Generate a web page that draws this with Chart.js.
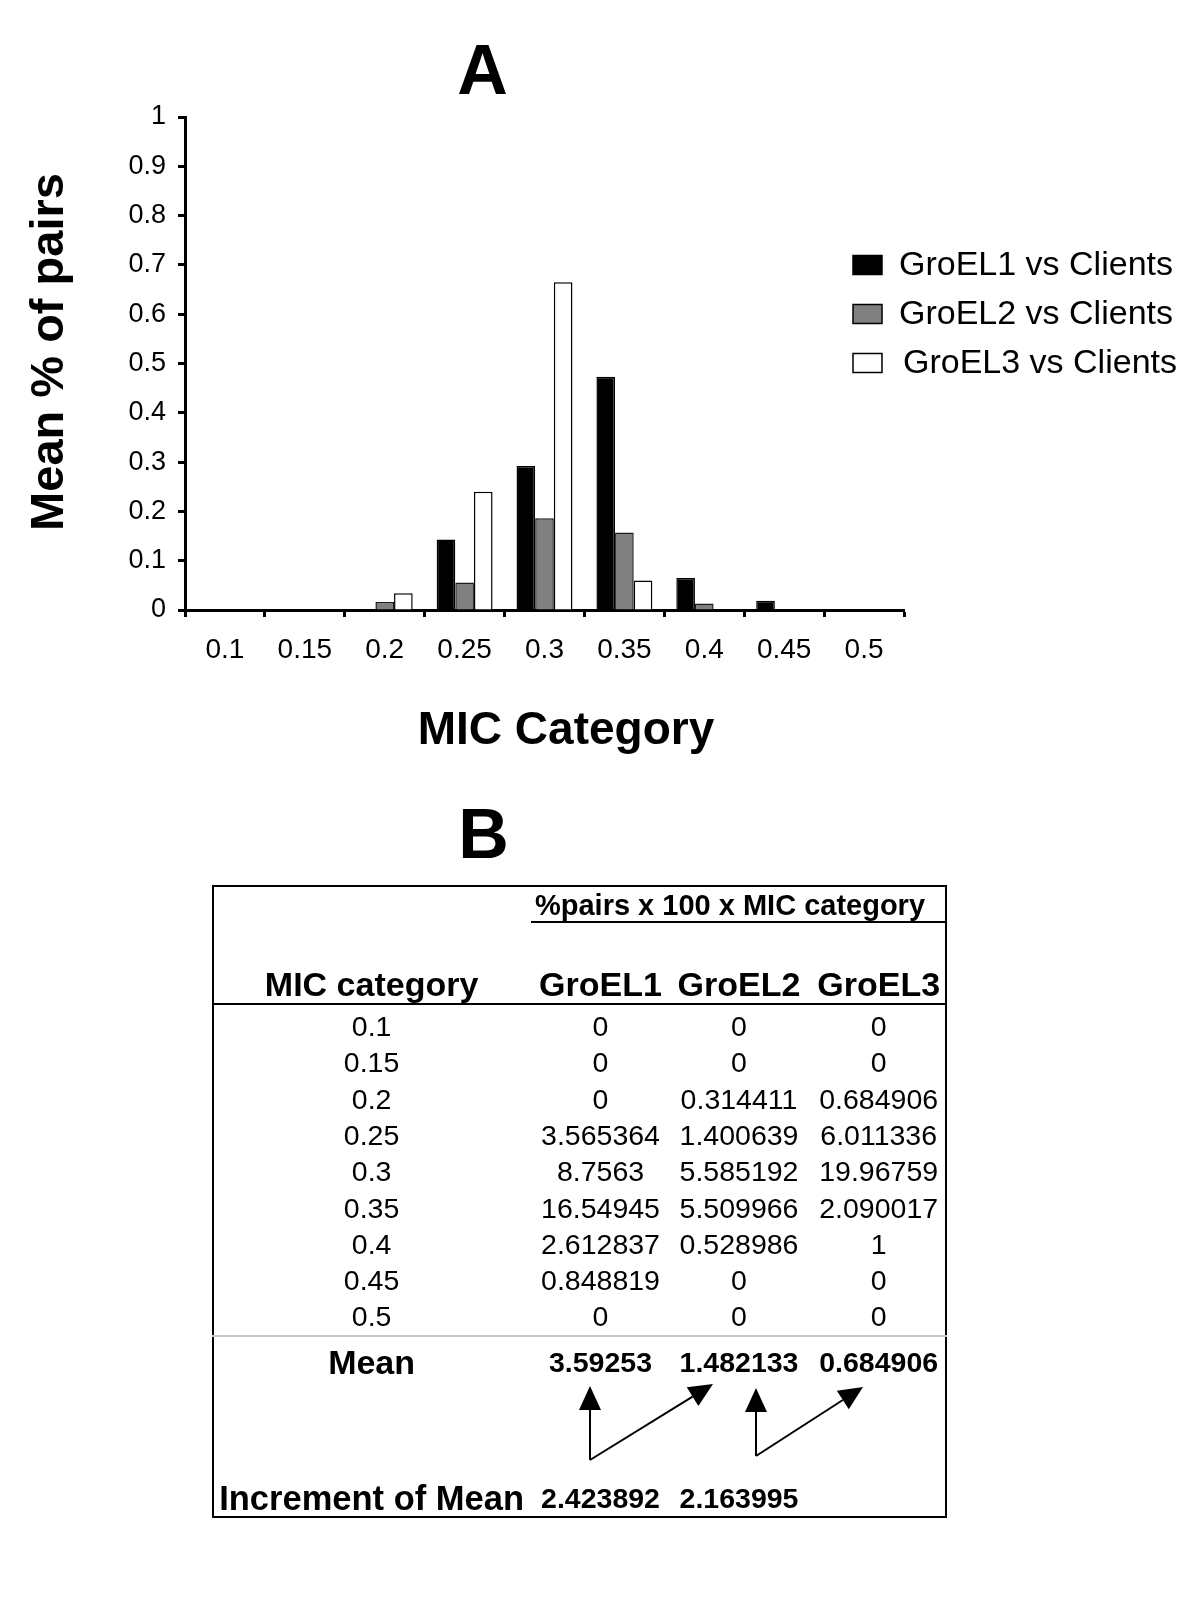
<!DOCTYPE html>
<html>
<head>
<meta charset="utf-8">
<script src="https://cdn.jsdelivr.net/npm/chart.js@4.4.1/dist/chart.umd.min.js"></script>
<style>
  html, body { margin: 0; padding: 0; background: #fff; }
  body { width: 1200px; height: 1610px; position: relative; overflow: hidden;
         font-family: Arial, "Liberation Sans", Helvetica, sans-serif; color: #000; }
  #chartA { position: absolute; left: 0; top: 0; }
  .txt { position: absolute; white-space: nowrap; text-align: center; }
  .bold { font-weight: bold; }
  .rule { position: absolute; background: #000; }
  #tableBox { position: absolute; left: 212px; top: 885px; width: 735px; height: 633px;
              border: 2px solid #000; box-sizing: border-box; }
  #arrows { position: absolute; left: 0; top: 0; }
</style>
</head>
<body>
<canvas id="chartA" width="1200" height="780"></canvas>
<div id="tableBox"></div>
<div class="rule" style="left:531px; top:921px; width:416px; height:2px;"></div>
<div class="rule" style="left:212px; top:1003px; width:735px; height:2px;"></div>
<div class="rule" style="left:212px; top:1335px; width:735px; height:2px; background:#c8c8c8;"></div>
<svg id="arrows" width="1200" height="1610"></svg>

<script>
// ---- panel A data (mean % of pairs per MIC category) ----
const micLabels = ["0.1", "0.15", "0.2", "0.25", "0.3", "0.35", "0.4", "0.45", "0.5"];
const groel1Pairs = [0, 0, 0, 0.143, 0.292, 0.473, 0.065, 0.019, 0];
const groel2Pairs = [0, 0, 0.016, 0.056, 0.186, 0.157, 0.013, 0, 0];
const groel3Pairs = [0, 0, 0.034, 0.240, 0.665, 0.060, 0, 0, 0];
const seriesNames = ["GroEL1 vs Clients", "GroEL2 vs Clients", "GroEL3 vs Clients"];
const yMax = 1;
const yStep = 0.1;

// ---- panel B table ----
const tableHeads = ["MIC category", "GroEL1", "GroEL2", "GroEL3"];
const tableGroel1 = ["0", "0", "0", "3.565364", "8.7563", "16.54945", "2.612837", "0.848819", "0"];
const tableGroel2 = ["0", "0", "0.314411", "1.400639", "5.585192", "5.509966", "0.528986", "0", "0"];
const tableGroel3 = ["0", "0", "0.684906", "6.011336", "19.96759", "2.090017", "1", "0", "0"];
const tableMeans = ["3.59253", "1.482133", "0.684906"];
const tableIncrements = ["2.423892", "2.163995"];

const FONT = "Arial, 'Liberation Sans', Helvetica, sans-serif";

// axis titles and legend drawn on top of the chart
const decorPlugin = {
  id: "decor",
  afterDraw(chart) {
    const ctx = chart.ctx;
    ctx.save();
    ctx.fillStyle = "#000";

    // y axis title
    ctx.save();
    ctx.translate(50, 352);
    ctx.rotate(-Math.PI / 2);
    ctx.font = "bold 47px " + FONT;
    ctx.textAlign = "center";
    ctx.textBaseline = "middle";
    ctx.fillText("Mean % of pairs", 0, 0);
    ctx.restore();

    // x axis title
    ctx.font = "bold 46px " + FONT;
    ctx.textAlign = "center";
    ctx.textBaseline = "middle";
    ctx.fillText("MIC Category", 566, 731);

    // legend
    const rows = [265, 314, 363];
    ctx.font = "34px " + FONT;
    ctx.textAlign = "left";
    chart.data.datasets.forEach((ds, i) => {
      const cy = rows[i];
      ctx.fillStyle = ds.backgroundColor;
      ctx.fillRect(853, cy - 9.5, 29, 19);
      ctx.lineWidth = 1.5;
      ctx.strokeStyle = "#000";
      ctx.strokeRect(853, cy - 9.5, 29, 19);
      ctx.fillStyle = "#000";
      ctx.fillText(ds.label, i === 2 ? 903 : 899, cy + 1);
    });
    ctx.restore();
  },
};

new Chart(document.getElementById("chartA"), {
  type: "bar",
  data: {
    labels: micLabels,
    datasets: [
      { label: seriesNames[0], data: groel1Pairs, backgroundColor: "#000000", borderColor: "#000", borderWidth: 1.5 },
      { label: seriesNames[1], data: groel2Pairs, backgroundColor: "#808080", borderColor: "#1a1a1a", borderWidth: 1.5 },
      { label: seriesNames[2], data: groel3Pairs, backgroundColor: "#ffffff", borderColor: "#000", borderWidth: 1.5 },
    ],
  },
  options: {
    responsive: false,
    animation: false,
    devicePixelRatio: 1,
    layout: { padding: { top: 117, right: 296, left: 0, bottom: 0 } },
    datasets: { bar: { categoryPercentage: 0.70, barPercentage: 1 } },
    plugins: { legend: { display: false }, tooltip: { enabled: false } },
    scales: {
      x: {
        grid: { offset: true, drawOnChartArea: false, drawTicks: true, tickLength: 7, tickWidth: 3, tickColor: "#000" },
        border: { display: true, color: "#000", width: 3 },
        ticks: { color: "#000", font: { family: FONT, size: 28 }, padding: 16, maxRotation: 0, autoSkip: false },
        afterFit: (s) => { s.height = 170; },
      },
      y: {
        min: 0,
        max: yMax,
        grid: { drawOnChartArea: false, drawTicks: true, tickLength: 7, tickWidth: 3, tickColor: "#000" },
        border: { display: true, color: "#000", width: 3 },
        ticks: {
          stepSize: yStep, color: "#000", font: { family: FONT, size: 27 }, padding: 12,
          callback: (v) => String(Math.round(v * 10) / 10),
        },
        afterFit: (s) => { s.width = 185; },
      },
    },
  },
  plugins: [decorPlugin],
});

// ---- HTML text for panel titles and table ----
function place(text, cx, cy, size, bold, w) {
  const el = document.createElement("div");
  el.className = "txt" + (bold ? " bold" : "");
  const lh = Math.round(size * 1.3);
  w = w || 300;
  el.style.left = (cx - w / 2) + "px";
  el.style.top = (cy - lh / 2) + "px";
  el.style.width = w + "px";
  el.style.fontSize = size + "px";
  el.style.lineHeight = lh + "px";
  el.textContent = text;
  document.body.appendChild(el);
  return el;
}

place("A", 482.5, 70, 70, true, 120);
place("B", 483.5, 834, 70, true, 120);

const colX = [371.6, 600.5, 739, 878.7];
place("%pairs x 100 x MIC category", 730, 905, 29, true, 420);
tableHeads.forEach((h, i) => place(h, colX[i], 984, 34, true, i === 0 ? 300 : 140));

const rowY0 = 1026.5, rowStep = 36.3;
micLabels.forEach((m, r) => {
  const y = rowY0 + r * rowStep;
  place(m, colX[0], y, 28.5, false, 200);
  place(tableGroel1[r], colX[1], y, 28.5, false, 140);
  place(tableGroel2[r], colX[2], y, 28.5, false, 140);
  place(tableGroel3[r], colX[3], y, 28.5, false, 140);
});

place("Mean", colX[0], 1362, 34, true, 200);
tableMeans.forEach((v, i) => place(v, colX[i + 1], 1362, 28.5, true, 140));

place("Increment of Mean", 371.6, 1498, 34.5, true, 320);
tableIncrements.forEach((v, i) => place(v, colX[i + 1], 1498, 28.5, true, 140));

// arrows between means
const svg = document.getElementById("arrows");
const NS = "http://www.w3.org/2000/svg";
function arrow(x1, y1, x2, y2) {
  const dx = x2 - x1, dy = y2 - y1;
  const len = Math.hypot(dx, dy);
  const ux = dx / len, uy = dy / len;
  const headLen = 24, headHalf = 11;
  const bx = x2 - ux * headLen, by = y2 - uy * headLen;
  const line = document.createElementNS(NS, "line");
  line.setAttribute("x1", x1); line.setAttribute("y1", y1);
  line.setAttribute("x2", bx); line.setAttribute("y2", by);
  line.setAttribute("stroke", "#000"); line.setAttribute("stroke-width", "2");
  svg.appendChild(line);
  const head = document.createElementNS(NS, "polygon");
  const pts = [
    [x2, y2],
    [bx - uy * headHalf, by + ux * headHalf],
    [bx + uy * headHalf, by - ux * headHalf],
  ];
  head.setAttribute("points", pts.map((p) => p.join(",")).join(" "));
  head.setAttribute("fill", "#000");
  svg.appendChild(head);
}
arrow(590, 1460, 590, 1386);
arrow(590, 1460, 713, 1384);
arrow(756, 1456, 756, 1388);
arrow(756, 1456, 863, 1387);
</script>
</body>
</html>
